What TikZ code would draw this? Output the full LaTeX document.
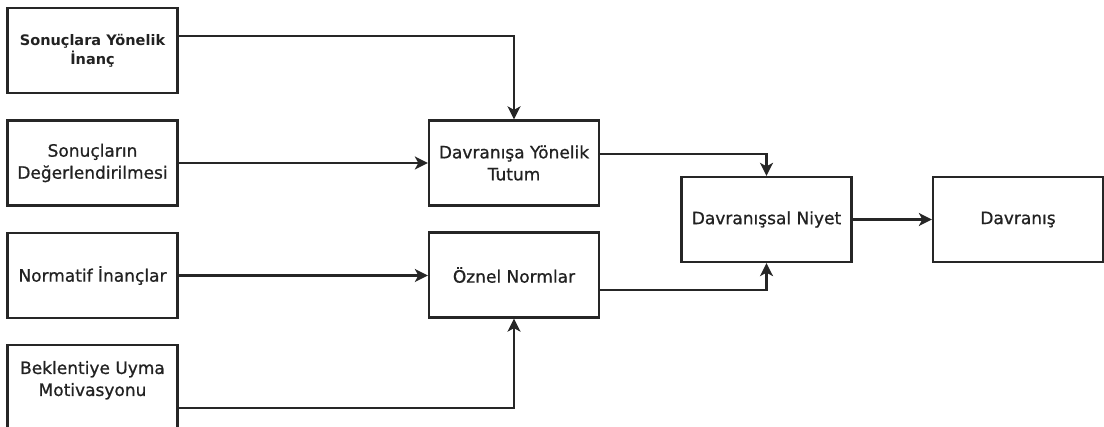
\documentclass[tikz,border=0pt]{standalone}
\usepackage{fontspec}
\setmainfont{DejaVu Sans}
\newfontfamily\boxfont[FakeBold=0.8]{DejaVu Sans}
\usetikzlibrary{arrows.meta}
\definecolor{ink}{HTML}{262626}
\definecolor{txt}{HTML}{222222}
\tikzset{
  stepbox/.style={draw=ink, line width=2.3pt, fill=white, rectangle,
    minimum width=170pt, minimum height=85pt, inner sep=0pt,
    align=center, text=txt, font=\boxfont\fontsize{17}{22}\selectfont},
  smallbox/.style={stepbox, font=\bfseries\fontsize{14.5}{19}\selectfont},
  link/.style={draw=ink, line width=2.2pt,
    -{Stealth[length=13pt, width=13pt, inset=3.5pt]}}
}
\begin{document}
\begin{tikzpicture}[x=1pt, y=-1pt]
  \clip (0,0) rectangle (1104,427);
  \fill[white] (0,0) rectangle (1104,427);

  % left column: beliefs and evaluations
  \node[smallbox] (inanc) at (92.5,50.5) {Sonuçlara Yönelik\\İnanç};
  \node[stepbox] (deger) at (92.5,163) {Sonuçların\\Değerlendirilmesi};
  \node[stepbox] (norm) at (92.5,275.5) {Normatif İnançlar};
  \node[stepbox, text depth=18pt] (uyma) at (92.5,387.5) {Beklentiye Uyma\\Motivasyonu};

  % middle column
  \node[stepbox] (tutum) at (514,163) {Davranışa Yönelik\\Tutum};
  \node[stepbox] (oznel) at (514,275) {Öznel Normlar};

  % intention and behaviour
  \node[stepbox] (niyet) at (766.5,219.5) {Davranışsal Niyet};
  \node[stepbox] (davr) at (1018,219.5) {Davranış};

  % connectors
  \draw[link] ([yshift=14.5pt]inanc.east) -| (tutum.north);
  \draw[link] (deger.east) -- (tutum.west);
  \draw[link] (norm.east) -- (norm.east -| oznel.west);
  \draw[link] ([yshift=-20.5pt]uyma.east) -| (oznel.south);
  \draw[link] ([yshift=9pt]tutum.east) -| (niyet.north);
  \draw[link] ([yshift=-15pt]oznel.east) -| (niyet.south);
  \draw[link] (niyet.east) -- (davr.west);
\end{tikzpicture}
\end{document}
